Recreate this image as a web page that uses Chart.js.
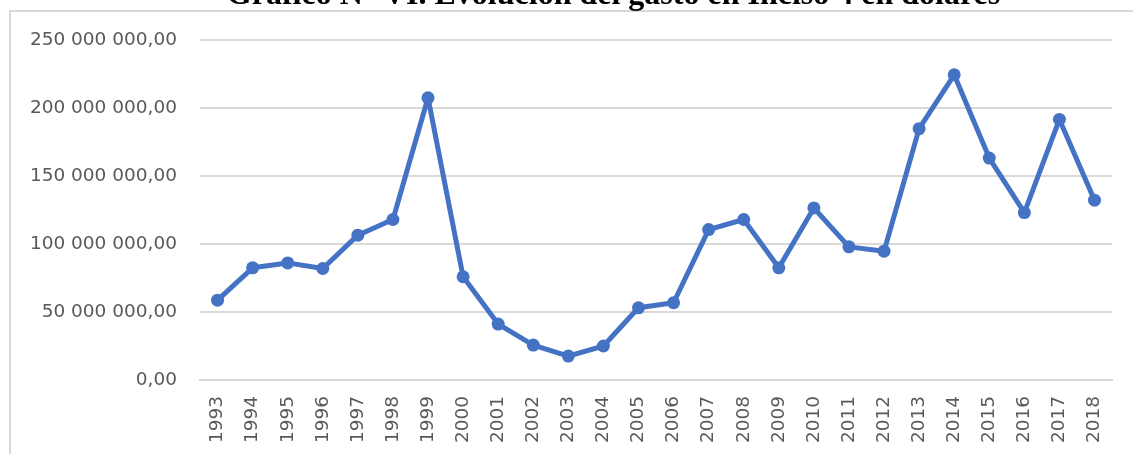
<!DOCTYPE html>
<html>
<head>
<meta charset="utf-8">
<script src="https://cdn.jsdelivr.net/npm/chart.js@4/dist/chart.umd.min.js"></script>
<style>
  html, body { margin: 0; padding: 0; background: #fff; }
  #wrap { position: relative; width: 1133px; height: 454px; overflow: hidden; }
  #frame { position: absolute; left: 9px; top: 10px; width: 1140px; height: 460px;
           border-left: 2px solid #d9d9d9; border-top: 2px solid #d9d9d9; box-sizing: border-box; }
  #title { position: absolute; left: 47px; width: 1133px; top: -23px; text-align: center;
           font-family: "Liberation Serif", "Times New Roman", serif; font-weight: bold;
           font-size: 32px; line-height: 32px; color: #000; white-space: nowrap; }
  canvas { position: absolute; left: 0; top: 0; }
</style>
</head>
<body>
<div id="wrap">
  <div id="frame"></div>
  <canvas id="c" width="1133" height="454"></canvas>
  <div id="title">Gráfico N° VI. Evolución del gasto en Inciso 4 en dólares</div>
</div>
<script>
const years = ["1993","1994","1995","1996","1997","1998","1999","2000","2001","2002","2003","2004","2005","2006","2007","2008","2009","2010","2011","2012","2013","2014","2015","2016","2017","2018"];
const gasto = [58700000, 82500000, 86100000, 82000000, 106500000, 118000000, 207500000, 75900000, 41100000, 25700000, 17600000, 25000000, 53100000, 56800000, 110600000, 118000000, 82500000, 126500000, 97900000, 94700000, 184800000, 224400000, 163200000, 123100000, 191600000, 132200000];
const yTicks = [0, 50000000, 100000000, 150000000, 200000000, 250000000];

function fmt(v) {
  const s = Math.round(v).toString().replace(/\B(?=(\d{3})+(?!\d))/g, " ");
  return s + ",00";
}

new Chart(document.getElementById('c'), {
  type: 'line',
  data: {
    labels: years,
    datasets: [{
      data: gasto,
      borderColor: '#4472C4',
      backgroundColor: '#4472C4',
      borderWidth: 5,
      borderJoinStyle: 'round',
      borderCapStyle: 'round',
      pointRadius: 6.5,
      pointBorderWidth: 0,
      pointBackgroundColor: '#4472C4',
      tension: 0,
      fill: false
    }]
  },
  options: {
    responsive: false,
    animation: false,
    devicePixelRatio: 1,
    layout: { padding: { top: 40, right: 15, left: 0, bottom: 0 } },
    plugins: { legend: { display: false }, title: { display: false }, tooltip: { enabled: false } },
    scales: {
      x: {
        offset: true,
        grid: { display: false, drawTicks: false },
        border: { display: true, color: '#d9d9d9', width: 2 },
        ticks: {
          color: '#595959', font: { family: 'DejaVu Sans', size: 18.5 },
          maxRotation: 90, minRotation: 90, padding: 16, autoSkip: false
        },
        afterFit: (s) => { s.height = 74; }
      },
      y: {
        min: 0, max: 250000000,
        afterBuildTicks: (s) => { s.ticks = yTicks.map(v => ({ value: v })); },
        grid: { color: '#d9d9d9', lineWidth: 2, drawTicks: false },
        border: { display: false },
        ticks: {
          color: '#595959', font: { family: 'DejaVu Sans', size: 18.5 },
          padding: 23, callback: (v) => fmt(v)
        },
        afterFit: (s) => { s.width = 200; }
      }
    }
  }
});
</script>
</body>
</html>
